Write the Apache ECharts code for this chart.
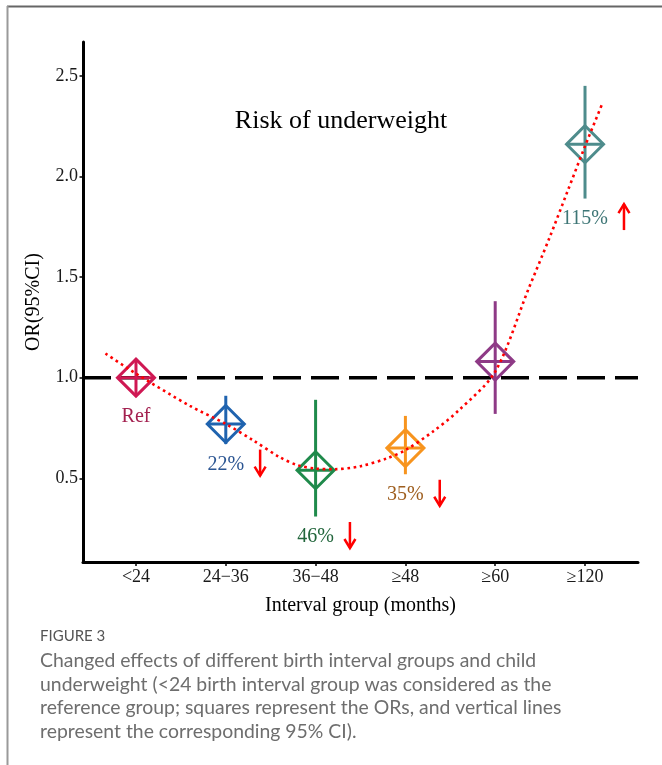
<!DOCTYPE html>
<html><head><meta charset="utf-8">
<script src="https://cdn.jsdelivr.net/npm/echarts@6/dist/echarts.min.js"></script>
<style>html,body{margin:0;padding:0;background:#fff}#c{width:662px;height:765px}</style>
</head><body><div id="c"></div>
<script>
// ---- data ----
const categories = ['<24', '24\u221236', '36\u221248', '\u226548', '\u226560', '\u2265120'];
const orValues = [1.00, 0.77, 0.54, 0.65, 1.08, 2.16];
const ciLower = [1.00, 0.67, 0.31, 0.52, 0.82, 1.89];
const ciUpper = [1.00, 0.91, 0.89, 0.81, 1.38, 2.45];
const changeLabels = ['Ref', '22%', '46%', '35%', '', '115%'];
const changeDirection = ['', 'down', 'down', 'down', '', 'up'];
const trendX = [0.66, 1.0, 1.6, 2.0, 2.3, 2.6, 2.8, 3.0, 3.2, 3.5, 3.8, 4.0, 4.3, 4.6, 5.0, 5.37, 5.6, 5.8, 6.0, 6.2];
const trendY = [1.12, 1.02, 0.86, 0.77, 0.69, 0.605, 0.565, 0.548, 0.545, 0.56, 0.60, 0.64, 0.73, 0.84, 1.03, 1.44, 1.69, 1.92, 2.15, 2.37];
const yTicks = [0.5, 1.0, 1.5, 2.0, 2.5];
const referenceOR = 1.0;
const chartTitle = 'Risk of underweight';
const xTitle = 'Interval group (months)';
const yTitle = 'OR(95%CI)';
const figureLabel = 'FIGURE 3';
const captionLines = [
  'Changed effects of different birth interval groups and child',
  'underweight (<24 birth interval group was considered as the',
  'reference group; squares represent the ORs, and vertical lines',
  'represent the corresponding 95% CI).'
];

// ---- styles ----
const markerColors = ['#CF1853', '#1F63AF', '#1F8A4B', '#F7941E', '#8E3A86', '#4E8C8C'];
const labelColors = ['#A3204F', '#2B5592', '#22663C', '#9E5E1E', '#8E3A86', '#3E7676'];
const serif = '"Liberation Serif", "Times New Roman", serif';
const X_MIN = 0.41, X_MAX = 6.59, Y_MIN = 0.084, Y_MAX = 2.668;

const measureCtx = document.createElement('canvas').getContext('2d');
function textWidth(t, font) { measureCtx.font = font; return measureCtx.measureText(t).width; }

const chart = echarts.init(document.getElementById('c'), null, { renderer: 'canvas' });
const catPositions = categories.map((c, i) => i + 1);
const labelFont = '20px ' + serif;

function renderItem(params, api) {
  const i = api.value(4);
  const x = api.value(0);
  const c = api.coord([x, api.value(1)]);
  const lo = api.coord([x, api.value(2)]);
  const hi = api.coord([x, api.value(3)]);
  const h = 18.5;
  const col = markerColors[i];
  const top = Math.min(hi[1], c[1] - h);
  const bottom = Math.max(lo[1], c[1] + h);
  const children = [
    { type: 'line', shape: { x1: c[0], y1: top, x2: c[0], y2: bottom }, style: { stroke: col, lineWidth: 3 } },
    { type: 'line', shape: { x1: c[0] - h, y1: c[1], x2: c[0] + h, y2: c[1] }, style: { stroke: col, lineWidth: 3 } },
    { type: 'polygon', shape: { points: [[c[0], c[1] - h], [c[0] + h, c[1]], [c[0], c[1] + h], [c[0] - h, c[1]]] },
      style: { fill: 'none', stroke: col, lineWidth: 3 } }
  ];
  const txt = changeLabels[i];
  if (txt) {
    const ly = bottom + 20.5;
    children.push({ type: 'text', x: c[0], y: ly,
      style: { text: txt, fill: labelColors[i], font: labelFont, align: 'center', verticalAlign: 'middle' } });
    const dir = changeDirection[i];
    if (dir) {
      const ax = c[0] + textWidth(txt, labelFont) / 2 + 16;
      const ay = ly - 2;
      const s = dir === 'down' ? 1 : -1;
      children.push({ type: 'line', shape: { x1: ax, y1: ay - 13 * s, x2: ax, y2: ay + 13 * s },
        style: { stroke: '#FF0000', lineWidth: 2.5 } });
      children.push({ type: 'polyline', shape: { points: [[ax - 5.5, ay + 4 * s], [ax, ay + 13 * s], [ax + 5.5, ay + 4 * s]] },
        style: { stroke: '#FF0000', lineWidth: 2.5, fill: 'none' } });
    }
  }
  return { type: 'group', children };
}

const graphics = [
  { type: 'line', shape: { x1: 7, y1: 6.5, x2: 662, y2: 6.5 }, style: { stroke: '#666', lineWidth: 2 }, silent: true },
  { type: 'line', shape: { x1: 7.5, y1: 6, x2: 7.5, y2: 765 }, style: { stroke: '#9a9a9a', lineWidth: 2 }, silent: true },
  { type: 'text', x: 341, y: 121, style: { text: chartTitle, font: '26px ' + serif, fill: '#000', align: 'center', verticalAlign: 'middle' } },
  { type: 'text', x: 40, y: 636, style: { text: figureLabel, font: '15px Lato, "Open Sans", sans-serif', fill: '#555', align: 'left', verticalAlign: 'middle' } }
];
const capY = [661, 684.5, 708, 731.5];
captionLines.forEach((t, k) => {
  graphics.push({ type: 'text', x: 40, y: capY[k],
    style: { text: t, font: '19.4px Lato, "Open Sans", sans-serif', fill: '#6e6e6e', align: 'left', verticalAlign: 'middle' } });
});

chart.setOption({
  animation: false,
  backgroundColor: '#fff',
  grid: { left: 83, right: 24, top: 42, bottom: 203 },
  xAxis: {
    type: 'value', min: X_MIN, max: X_MAX,
    splitLine: { show: false },
    axisLine: { onZero: false, lineStyle: { color: '#000', width: 3 } },
    axisTick: { show: true, length: 4, customValues: catPositions, lineStyle: { color: '#000', width: 1.5 } },
    axisLabel: { customValues: catPositions, formatter: v => categories[Math.round(v) - 1], color: '#1a1a1a',
      fontFamily: serif, fontSize: 18, margin: 6 },
    name: xTitle, nameLocation: 'middle', nameGap: 34,
    nameTextStyle: { fontFamily: serif, fontSize: 20, color: '#000' }
  },
  yAxis: {
    type: 'value', min: Y_MIN, max: Y_MAX,
    splitLine: { show: false },
    axisLine: { show: true, onZero: false, lineStyle: { color: '#000', width: 3 } },
    axisTick: { show: true, length: 3.5, customValues: yTicks, lineStyle: { color: '#000', width: 1.5 } },
    axisLabel: { customValues: yTicks, formatter: v => v.toFixed(1), color: '#1a1a1a',
      fontFamily: serif, fontSize: 18, margin: 5 },
    name: yTitle, nameLocation: 'middle', nameGap: 39, nameRotate: 90,
    nameTextStyle: { fontFamily: serif, fontSize: 20, color: '#000' }
  },
  graphic: graphics,
  series: [
    {
      type: 'line', z: 1, silent: true, symbol: 'none',
      data: [[X_MIN, referenceOR], [X_MAX, referenceOR]],
      lineStyle: { color: '#000', width: 3.5, type: [28, 10] }
    },
    {
      type: 'custom', z: 3, silent: true,
      renderItem: renderItem,
      encode: { x: 0, y: 1 },
      data: orValues.map((v, i) => [i + 1, v, ciLower[i], ciUpper[i], i])
    },
    {
      type: 'line', z: 4, silent: true, symbol: 'none', showSymbol: false, smooth: 0.3,
      data: trendX.map((x, i) => [x, trendY[i]]),
      lineStyle: { color: '#FF0000', width: 2.6, type: [2.6, 3.6] }
    }
  ]
});
</script>
</body></html>
